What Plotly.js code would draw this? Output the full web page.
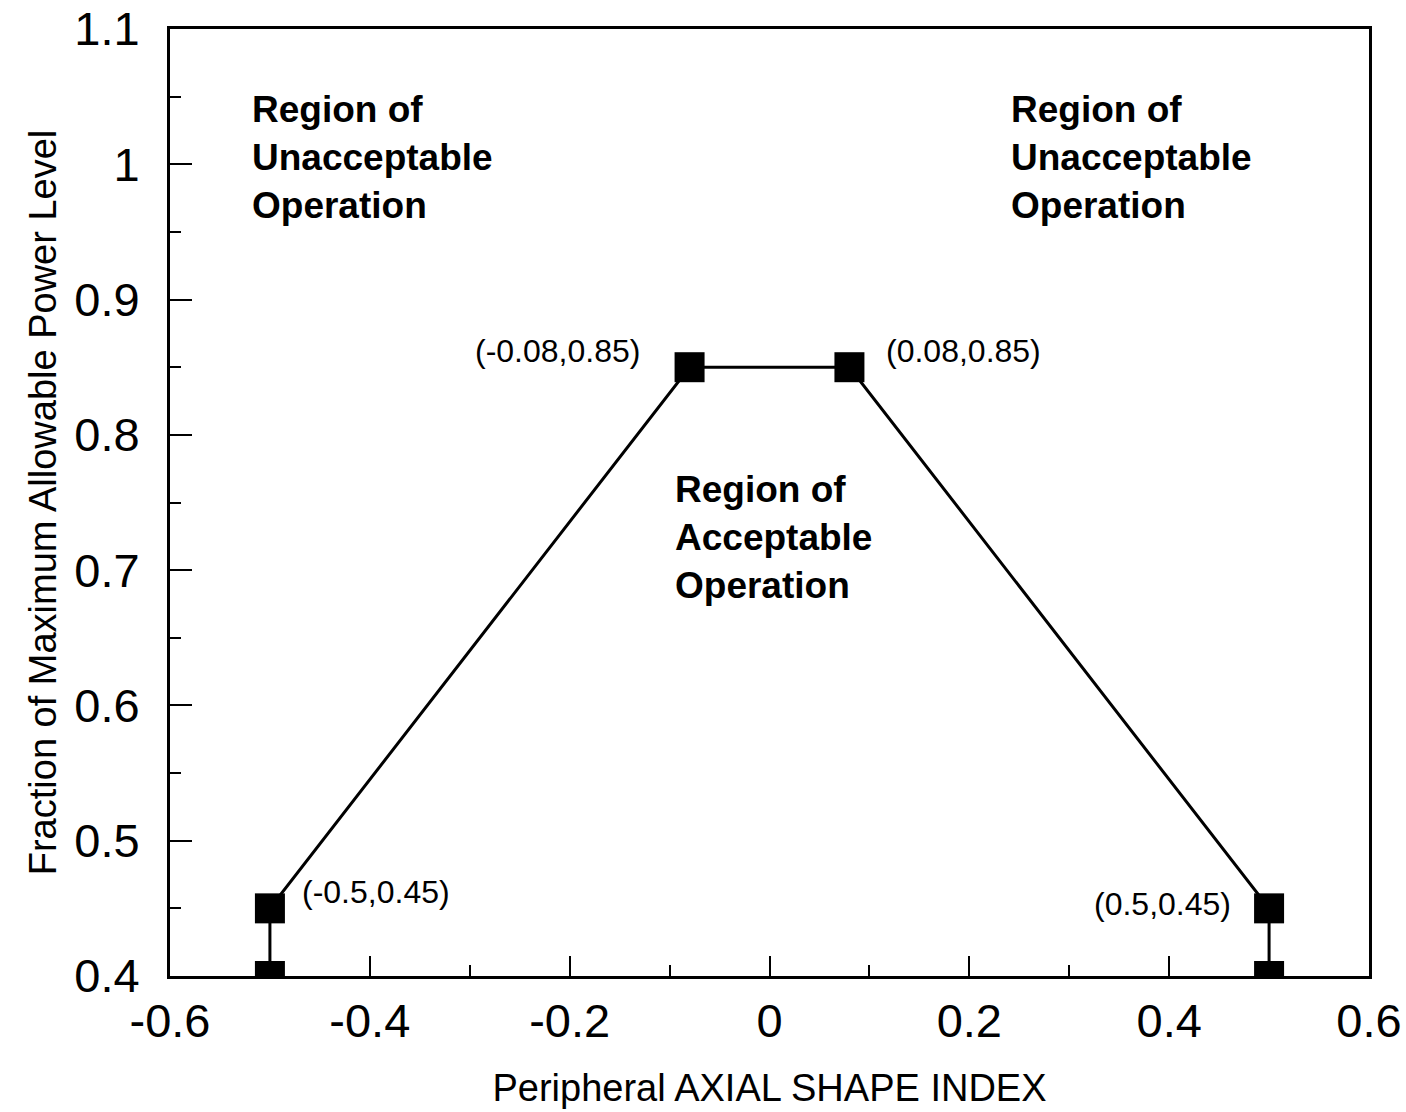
<!DOCTYPE html>
<html>
<head>
<meta charset="utf-8">
<script src="https://cdn.plot.ly/plotly-3.0.1.min.js"></script>
<style>
  html, body { margin: 0; padding: 0; background: #fff; }
  #chart { width: 1406px; height: 1112px; }
</style>
</head>
<body>
<div id="chart"></div>
<script>
// Boundary points (Peripheral ASI, fraction of max allowable power)
const asiValues = [-0.5, -0.5, -0.08, 0.08, 0.5, 0.5];
const powerValues = [0.4, 0.45, 0.85, 0.85, 0.45, 0.4];

// Axis ticks
const xTickVals = [-0.6, -0.4, -0.2, 0, 0.2, 0.4, 0.6];
const xTickText = ["-0.6", "-0.4", "-0.2", "0", "0.2", "0.4", "0.6"];
const yTickVals = [0.4, 0.5, 0.6, 0.7, 0.8, 0.9, 1, 1.1];
const yTickText = ["0.4", "0.5", "0.6", "0.7", "0.8", "0.9", "1", "1.1"];

// Labelled corner points
const labelX = [-0.08, 0.08, -0.5, 0.5];
const labelY = [0.85, 0.85, 0.45, 0.45];
const labelText = ["(-0.08,0.85)", "(0.08,0.85)", "(-0.5,0.45)", "(0.5,0.45)"];

// Region labels
const regionX = [-0.52, 0.24, -0.097];
const regionY = [1.005, 1.005, 0.724];
const regionText = [
  "Region of<br>Unacceptable<br>Operation",
  "Region of<br>Unacceptable<br>Operation",
  "Region of<br>Acceptable<br>Operation"
];

const FONT = "Liberation Sans, Arial, Helvetica, sans-serif";

// placement of each point label relative to its point
const labelPlacement = [
  {xanchor: "right", xshift: -48, yshift: 16},
  {xanchor: "left", xshift: 35, yshift: 16},
  {xanchor: "left", xshift: 30, yshift: 16},
  {xanchor: "right", xshift: -36, yshift: 4}
];

const annotations = [];
labelText.forEach((t, i) => {
  annotations.push(Object.assign({
    x: labelX[i], y: labelY[i], xref: "x", yref: "y",
    text: t, showarrow: false, yanchor: "middle",
    font: {family: FONT, size: 32, color: "#000"}
  }, labelPlacement[i]));
});
regionText.forEach((t, i) => {
  annotations.push({
    x: regionX[i], y: regionY[i], xref: "x", yref: "y",
    text: "<b>" + t + "</b>", showarrow: false,
    xanchor: "left", yanchor: "middle", align: "left",
    font: {family: FONT, size: 37, color: "#000"}
  });
});

const trace = {
  x: asiValues,
  y: powerValues,
  mode: "lines+markers",
  type: "scatter",
  cliponaxis: true,
  line: {color: "#000", width: 3},
  marker: {symbol: "square", size: 30, color: "#000"},
  hoverinfo: "x+y"
};

const layout = {
  width: 1406,
  height: 1112,
  paper_bgcolor: "#fff",
  plot_bgcolor: "#fff",
  showlegend: false,
  margin: {l: 170, r: 37, t: 29, b: 136},
  font: {family: FONT, color: "#000"},
  xaxis: {
    range: [-0.6, 0.6],
    tickmode: "array", tickvals: xTickVals, ticktext: xTickText,
    ticks: "inside", ticklen: 20, tickwidth: 2, tickcolor: "#000",
    minor: {tick0: -0.5, dtick: 0.2, ticks: "inside", ticklen: 11, tickwidth: 2, tickcolor: "#000"},
    showline: true, linecolor: "#000", linewidth: 3, mirror: true,
    showgrid: false, zeroline: false,
    tickfont: {family: FONT, size: 47, color: "#000"},
    ticklabelstandoff: 2,
    title: {text: "Peripheral AXIAL SHAPE INDEX", font: {family: FONT, size: 38, color: "#000"}, standoff: 28}
  },
  yaxis: {
    range: [0.4, 1.1],
    tickmode: "array", tickvals: yTickVals, ticktext: yTickText,
    ticks: "inside", ticklen: 22, tickwidth: 2, tickcolor: "#000",
    minor: {tick0: 0.45, dtick: 0.1, ticks: "inside", ticklen: 11, tickwidth: 2, tickcolor: "#000"},
    showline: true, linecolor: "#000", linewidth: 3, mirror: true,
    showgrid: false, zeroline: false,
    tickfont: {family: FONT, size: 47, color: "#000"},
    ticklabelstandoff: 18,
    title: {text: "Fraction of Maximum Allowable Power Level", font: {family: FONT, size: 38, color: "#000"}, standoff: 6}
  },
  annotations: annotations
};

Plotly.newPlot("chart", [trace], layout, {displayModeBar: false, staticPlot: true});
</script>
</body>
</html>
